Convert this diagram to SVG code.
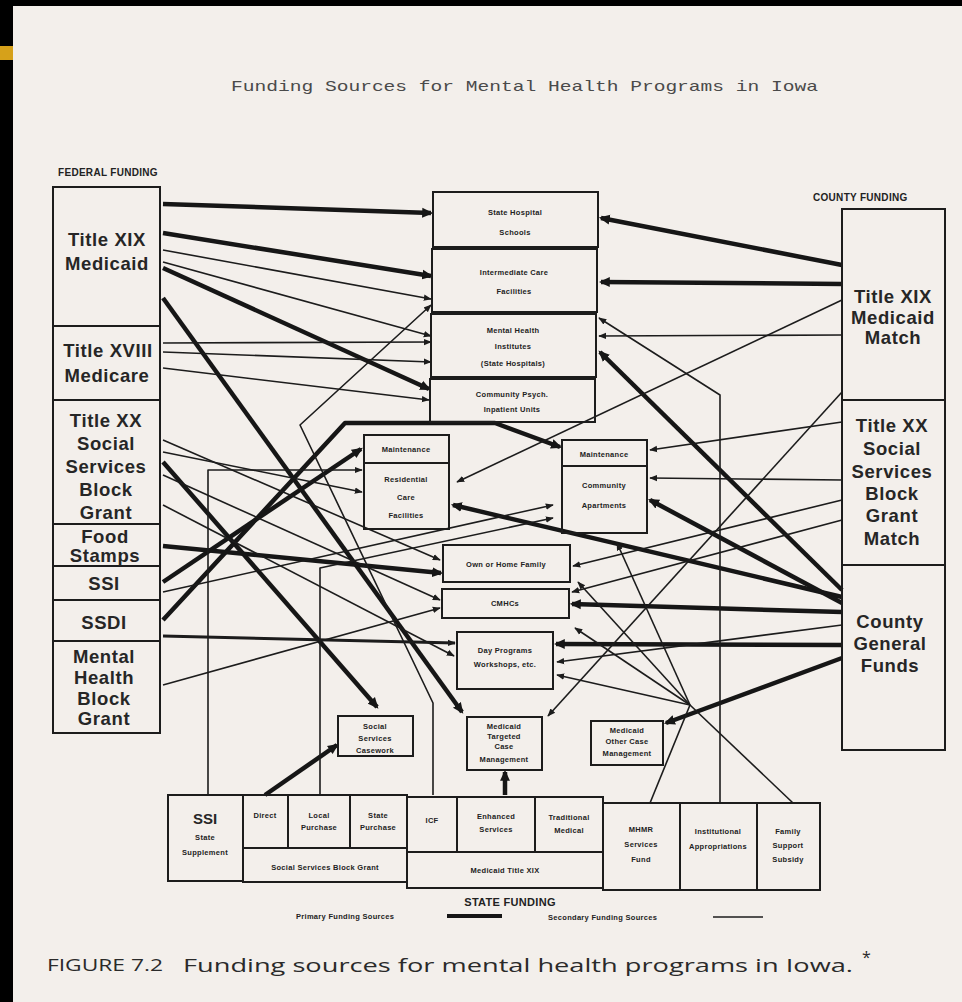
<svg xmlns="http://www.w3.org/2000/svg" width="962" height="1002" viewBox="0 0 962 1002">
<style>
.bx{fill:none;stroke:#1c1c1c;stroke-width:2}
.big{font-family:"Liberation Sans",Arial,sans-serif;font-weight:bold;font-size:18.5px;fill:#262626;text-anchor:middle;letter-spacing:0.6px}
.sm{font-family:"Liberation Sans",Arial,sans-serif;font-weight:bold;font-size:7.5px;fill:#222;text-anchor:middle;letter-spacing:0.3px}
.hd{font-family:"Liberation Sans",Arial,sans-serif;font-weight:bold;font-size:10px;fill:#222;letter-spacing:0.3px}
.p{fill:none;stroke:#161616;stroke-width:4.5;stroke-linejoin:round;marker-end:url(#ap)}
.s{fill:none;stroke:#1c1c1c;stroke-width:1.6;stroke-linejoin:round;marker-end:url(#as)}
.n{fill:none;stroke:#1c1c1c;stroke-width:1.6}
</style>
<defs>
<marker id="ap" viewBox="0 0 10 10" refX="8" refY="5" markerWidth="11" markerHeight="11" markerUnits="userSpaceOnUse" orient="auto"><path d="M0,0.5 L10,5 L0,9.5 z" fill="#161616"/></marker>
<marker id="as" viewBox="0 0 10 10" refX="9" refY="5" markerWidth="8" markerHeight="8" markerUnits="userSpaceOnUse" orient="auto"><path d="M0,1 L10,5 L0,9 z" fill="#1c1c1c"/></marker>
</defs>
<rect x="0" y="0" width="962" height="1002" fill="#f3efeb"/>
<rect x="0" y="0" width="962" height="6" fill="#000"/>
<rect x="0" y="0" width="13" height="1002" fill="#000"/>
<rect x="0" y="46" width="13" height="14" fill="#d6a11a"/>

<text x="231" y="91" font-family="'Liberation Mono',monospace" font-size="15" fill="#4a4a4a" textLength="587" lengthAdjust="spacingAndGlyphs">Funding Sources for Mental Health Programs in Iowa</text>

<text class="hd" x="58" y="176">FEDERAL FUNDING</text>
<text class="hd" x="813" y="201">COUNTY FUNDING</text>

<g id="connectors">
<path class="p" d="M163,204 L431,213"/>
<path class="p" d="M163,233 L431,276"/>
<path class="p" d="M163,268 L429,389"/>
<path class="p" d="M163,298 L462,712"/>
<path class="p" d="M842,265 L601,218"/>
<path class="p" d="M842,284 L601,282"/>
<path class="p" d="M842,590 L600,352"/>
<path class="p" d="M842,597 L453,505"/>
<path class="p" d="M842,603 L650,500"/>
<path class="p" d="M842,612 L572,604"/>
<path class="p" d="M842,645 L556,644"/>
<path class="p" d="M842,658 L666,723"/>
<path class="p" d="M163,462 L377,707"/>
<path class="p" d="M163,582 L361,449"/>
<path class="p" d="M163,620 L345,423 L495,423 L560,447"/>
<path class="p" d="M163,546 L441,573"/>
<path class="p" d="M265,795 L337,745"/>
<path class="p" d="M505,795 L505,772"/>
<path class="s" d="M163,250 L431,299"/>
<path class="s" d="M163,262 L431,336"/>
<path class="s" d="M163,343 L431,342"/>
<path class="s" d="M163,352 L431,362"/>
<path class="s" d="M163,368 L429,400"/>
<path class="s" d="M842,335 L599,336"/>
<path class="s" d="M842,392 L548,716"/>
<path class="s" d="M842,422 L650,450"/>
<path class="s" d="M842,480 L650,478"/>
<path class="s" d="M842,500 L573,566"/>
<path class="s" d="M842,520 L572,592"/>
<path class="s" d="M842,625 L557,662"/>
<path class="s" d="M842,300 L457,482"/>
<path class="s" d="M163,440 L440,560"/>
<path class="s" d="M163,475 L440,600"/>
<path class="s" d="M163,505 L454,656"/>
<path class="s" d="M163,452 L362,492"/>
<path class="s" d="M163,636 L455,643" style="stroke-width:3"/>
<path class="s" d="M163,685 L440,608"/>
<path class="s" d="M163,592 L553,505"/>
<path class="s" d="M320,795 L320,568 L553,518"/>
<path class="s" d="M208,795 L208,470 L362,470"/>
<path class="s" d="M433,795 L433,703 L300,425 L431,305"/>
<path class="s" d="M720,803 L720,395 L599,318"/>
<path class="n" d="M793,803 L690,705"/>
<path class="n" d="M650,803 L690,705"/>
<path class="s" d="M690,705 L578,582"/>
<path class="s" d="M690,705 L557,675"/>
<path class="s" d="M690,705 L575,628"/>
<path class="s" d="M690,705 L617,543"/>
</g>

<g id="federal">
<rect x="53" y="187" width="107" height="546" fill="#f3efeb" class="bx"/>
<line class="bx" x1="53" y1="326" x2="160" y2="326"/>
<line class="bx" x1="53" y1="400" x2="160" y2="400"/>
<line class="bx" x1="53" y1="524" x2="160" y2="524"/>
<line class="bx" x1="53" y1="566" x2="160" y2="566"/>
<line class="bx" x1="53" y1="600" x2="160" y2="600"/>
<line class="bx" x1="53" y1="641" x2="160" y2="641"/>
</g>
<g id="f-medicaid"><text class="big" x="107" y="246">Title XIX</text><text class="big" x="107" y="270">Medicaid</text></g>
<g id="f-medicare"><text class="big" x="108" y="357">Title XVIII</text><text class="big" x="107" y="382">Medicare</text></g>
<g id="f-titlexx"><text class="big" x="106" y="427">Title XX</text><text class="big" x="106" y="450">Social</text><text class="big" x="106" y="473">Services</text><text class="big" x="106" y="496">Block</text><text class="big" x="106" y="519">Grant</text></g>
<g id="f-food"><text class="big" x="105" y="543">Food</text><text class="big" x="105" y="562">Stamps</text></g>
<g id="f-ssi"><text class="big" x="104" y="590">SSI</text></g>
<g id="f-ssdi"><text class="big" x="104" y="629">SSDI</text></g>
<g id="f-mhbg"><text class="big" x="104" y="663">Mental</text><text class="big" x="104" y="684">Health</text><text class="big" x="104" y="705">Block</text><text class="big" x="104" y="725">Grant</text></g>

<g id="county">
<rect x="842" y="209" width="103" height="541" fill="#f3efeb" class="bx"/>
<line class="bx" x1="842" y1="400" x2="945" y2="400"/>
<line class="bx" x1="842" y1="565" x2="945" y2="565"/>
</g>
<g id="c-match"><text class="big" x="893" y="303">Title XIX</text><text class="big" x="893" y="324">Medicaid</text><text class="big" x="893" y="344">Match</text></g>
<g id="c-xx"><text class="big" x="892" y="432">Title XX</text><text class="big" x="892" y="455">Social</text><text class="big" x="892" y="478">Services</text><text class="big" x="892" y="500">Block</text><text class="big" x="892" y="522">Grant</text><text class="big" x="892" y="545">Match</text></g>
<g id="c-general"><text class="big" x="890" y="628">County</text><text class="big" x="890" y="650">General</text><text class="big" x="890" y="672">Funds</text></g>

<g id="shs"><rect class="bx" x="433" y="192" width="165" height="55" fill="#f3efeb"/><text class="sm" x="515" y="215">State Hospital</text><text class="sm" x="515" y="235">Schools</text></g>
<g id="icf"><rect class="bx" x="432" y="249" width="165" height="63" fill="#f3efeb"/><text class="sm" x="514" y="275">Intermediate Care</text><text class="sm" x="514" y="294">Facilities</text></g>
<g id="mhi"><rect class="bx" x="431" y="314" width="165" height="63" fill="#f3efeb"/><text class="sm" x="513" y="333">Mental Health</text><text class="sm" x="513" y="349">Institutes</text><text class="sm" x="513" y="366">(State Hospitals)</text></g>
<g id="cpiu"><rect class="bx" x="430" y="379" width="165" height="43" fill="#f3efeb"/><text class="sm" x="512" y="397">Community Psych.</text><text class="sm" x="512" y="412">Inpatient Units</text></g>

<g id="rcf"><rect class="bx" x="364" y="435" width="85" height="94" fill="#f3efeb"/><line class="bx" x1="364" y1="463" x2="449" y2="463"/><text class="sm" x="406" y="452">Maintenance</text><text class="sm" x="406" y="482">Residential</text><text class="sm" x="406" y="500">Care</text><text class="sm" x="406" y="518">Facilities</text></g>
<g id="capt"><rect class="bx" x="562" y="440" width="85" height="93" fill="#f3efeb"/><line class="bx" x1="562" y1="466" x2="647" y2="466"/><text class="sm" x="604" y="457">Maintenance</text><text class="sm" x="604" y="488">Community</text><text class="sm" x="604" y="508">Apartments</text></g>
<g id="ownhome"><rect class="bx" x="443" y="545" width="127" height="37" fill="#f3efeb"/><text class="sm" x="506" y="567">Own or Home Family</text></g>
<g id="cmhc"><rect class="bx" x="442" y="589" width="127" height="29" fill="#f3efeb"/><text class="sm" x="505" y="606">CMHCs</text></g>
<g id="day"><rect class="bx" x="457" y="632" width="96" height="57" fill="#f3efeb"/><text class="sm" x="505" y="653">Day Programs</text><text class="sm" x="505" y="667">Workshops, etc.</text></g>
<g id="ssc"><rect class="bx" x="338" y="716" width="75" height="40" fill="#f3efeb"/><text class="sm" x="375" y="729">Social</text><text class="sm" x="375" y="741">Services</text><text class="sm" x="375" y="753">Casework</text></g>
<g id="mtcm"><rect class="bx" x="467" y="717" width="75" height="53" fill="#f3efeb"/><text class="sm" x="504" y="729">Medicaid</text><text class="sm" x="504" y="739">Targeted</text><text class="sm" x="504" y="749">Case</text><text class="sm" x="504" y="762">Management</text></g>
<g id="mocm"><rect class="bx" x="591" y="721" width="72" height="44" fill="#f3efeb"/><text class="sm" x="627" y="733">Medicaid</text><text class="sm" x="627" y="744">Other Case</text><text class="sm" x="627" y="756">Management</text></g>

<g id="state">
<rect class="bx" x="168" y="795" width="75" height="86" fill="#f3efeb"/>
<text x="205" y="824" font-family="'Liberation Sans',Arial,sans-serif" font-weight="bold" font-size="15" fill="#262626" text-anchor="middle">SSI</text>
<text class="sm" x="205" y="840">State</text><text class="sm" x="205" y="855">Supplement</text>
<rect class="bx" x="243" y="795" width="164" height="87" fill="#f3efeb"/>
<line class="bx" x1="243" y1="848" x2="407" y2="848"/>
<line class="bx" x1="288" y1="795" x2="288" y2="848"/>
<line class="bx" x1="350" y1="795" x2="350" y2="848"/>
<text class="sm" x="265" y="818">Direct</text>
<text class="sm" x="319" y="818">Local</text><text class="sm" x="319" y="830">Purchase</text>
<text class="sm" x="378" y="818">State</text><text class="sm" x="378" y="830">Purchase</text>
<text class="sm" x="325" y="870">Social Services Block Grant</text>
<rect class="bx" x="407" y="797" width="196" height="91" fill="#f3efeb"/>
<line class="bx" x1="407" y1="852" x2="603" y2="852"/>
<line class="bx" x1="457" y1="797" x2="457" y2="852"/>
<line class="bx" x1="535" y1="797" x2="535" y2="852"/>
<text class="sm" x="432" y="823">ICF</text>
<text class="sm" x="496" y="819">Enhanced</text><text class="sm" x="496" y="832">Services</text>
<text class="sm" x="569" y="820">Traditional</text><text class="sm" x="569" y="833">Medical</text>
<text class="sm" x="505" y="873">Medicaid Title XIX</text>
<rect class="bx" x="603" y="803" width="217" height="87" fill="#f3efeb"/>
<line class="bx" x1="680" y1="803" x2="680" y2="890"/>
<line class="bx" x1="757" y1="803" x2="757" y2="890"/>
<text class="sm" x="641" y="832">MHMR</text><text class="sm" x="641" y="847">Services</text><text class="sm" x="641" y="862">Fund</text>
<text class="sm" x="718" y="834">Institutional</text><text class="sm" x="718" y="849">Appropriations</text>
<text class="sm" x="788" y="834">Family</text><text class="sm" x="788" y="848">Support</text><text class="sm" x="788" y="862">Subsidy</text>
</g>

<g id="legend">
<text x="510" y="906" font-family="'Liberation Sans',Arial,sans-serif" font-weight="bold" font-size="11" fill="#222" text-anchor="middle" letter-spacing="0.3">STATE FUNDING</text>
<text class="sm" x="296" y="919" style="text-anchor:start">Primary Funding Sources</text>
<line x1="447" y1="916" x2="502" y2="916" stroke="#161616" stroke-width="4"/>
<text class="sm" x="548" y="920" style="text-anchor:start">Secondary Funding Sources</text>
<line x1="713" y1="917" x2="763" y2="917" stroke="#1c1c1c" stroke-width="1.5"/>
</g>

<g id="caption">
<text x="47" y="971" font-family="'Open Sans','Liberation Sans',sans-serif" font-size="16" fill="#2a2a2a" textLength="116" lengthAdjust="spacingAndGlyphs">FIGURE 7.2</text>
<text x="183" y="972" font-family="'Open Sans','Liberation Sans',sans-serif" font-size="19" fill="#2a2a2a" textLength="670" lengthAdjust="spacingAndGlyphs">Funding sources for mental health programs in Iowa.</text>
<text x="862" y="963" font-family="'Open Sans','Liberation Sans',sans-serif" font-size="16" fill="#2a2a2a">*</text>
</g>
</svg>
